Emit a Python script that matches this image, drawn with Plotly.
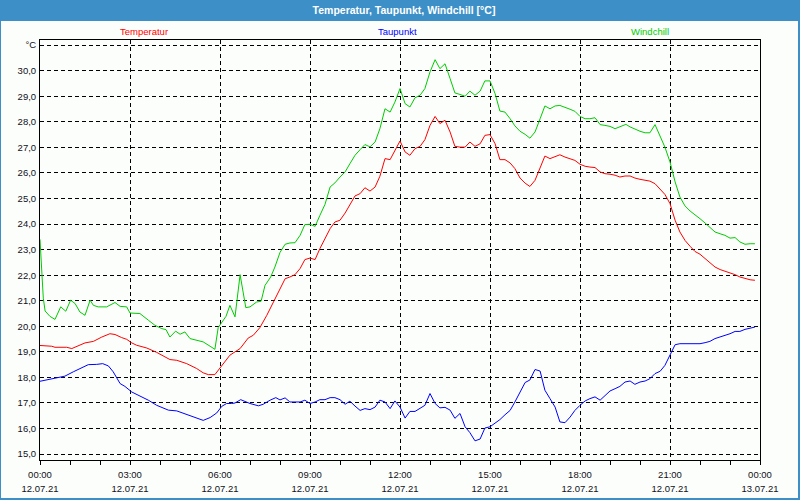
import plotly.graph_objects as go

# ---------------- data (hours since 12.07.21 00:00, °C) ----------------
series_names = ["Temperatur", "Taupunkt", "Windchill"]
series_colors = ["#ff0000", "#0000ff", "#00cc00"]

temp_t = [0, 0.39, 0.5, 0.89, 1.06, 1.28, 1.5, 1.78, 2.06, 2.33, 2.5, 2.72, 2.89, 3.06, 3.22,
          3.56, 3.89, 4.33, 4.56, 4.89, 5.22, 5.44, 5.61, 5.83, 6.06, 6.33, 6.67, 6.94, 7.11,
          7.33, 7.56, 7.78, 8.0, 8.17, 8.33, 8.5, 8.67, 8.83, 9.0, 9.17, 9.33, 9.5, 9.67, 9.83,
          10.0, 10.17, 10.33, 10.5, 10.67, 10.83, 11.0, 11.17, 11.33, 11.5, 11.67, 11.83, 12.0,
          12.17, 12.33, 12.5, 12.67, 12.83, 13.0, 13.17, 13.33, 13.5, 13.67, 13.83, 14.0, 14.17,
          14.33, 14.5, 14.67, 14.83, 15.0, 15.17, 15.33, 15.5, 15.67, 15.83, 16.0, 16.17, 16.33,
          16.5, 16.67, 16.83, 17.0, 17.17, 17.33, 17.5, 17.67, 17.83, 18.0, 18.17, 18.33, 18.5,
          18.67, 18.83, 19.0, 19.17, 19.33, 19.5, 19.67, 19.83, 20.0, 20.17, 20.33, 20.5, 20.67,
          20.83, 21.0, 21.17, 21.33, 21.5, 21.67, 21.83, 22.0, 22.17, 22.33, 22.5, 22.67, 22.83,
          23.0, 23.17, 23.33, 23.5, 23.67, 23.83]
temp_v = [19.25, 19.22, 19.18, 19.18, 19.13, 19.25, 19.35, 19.41, 19.58, 19.71, 19.68, 19.56,
          19.49, 19.35, 19.26, 19.15, 18.98, 18.70, 18.67, 18.54, 18.35, 18.18, 18.11, 18.11,
          18.48, 18.87, 19.13, 19.54, 19.65, 19.95, 20.43, 20.95, 21.44, 21.86, 21.93, 22.02,
          22.26, 22.61, 22.67, 22.61, 23.04, 23.43, 23.82, 24.08, 24.15, 24.43, 24.77, 25.10,
          25.19, 25.42, 25.29, 25.45, 25.87, 26.56, 26.52, 26.88, 27.25, 26.82, 26.69, 26.95,
          27.04, 27.30, 27.86, 28.21, 27.93, 28.06, 27.60, 27.04, 27.01, 27.01, 27.21, 27.04,
          27.14, 27.47, 27.50, 27.14, 26.52, 26.52, 26.39, 26.17, 25.80, 25.60, 25.47, 25.71,
          26.23, 26.66, 26.56, 26.65, 26.71, 26.62, 26.56, 26.49, 26.34, 26.26, 26.23, 26.21,
          26.04, 25.97, 25.95, 25.91, 25.84, 25.88, 25.88, 25.80, 25.75, 25.71, 25.68, 25.58,
          25.38, 25.16, 24.80, 24.15, 23.69, 23.36, 23.13, 22.93, 22.82, 22.65, 22.48, 22.32,
          22.22, 22.16, 22.10, 22.02, 21.93, 21.86, 21.82, 21.80]

dew_t = [0, 0.33, 0.67, 0.83, 1.11, 1.39, 1.61, 1.89, 2.09, 2.28, 2.44, 2.67, 2.83, 3.06, 3.33,
         3.61, 3.89, 4.28, 4.56, 4.89, 5.22, 5.44, 5.67, 5.89, 6.06, 6.22, 6.39, 6.5, 6.69, 7.0,
         7.28, 7.44, 7.67, 7.86, 8.0, 8.17, 8.33, 8.5, 8.67, 8.83, 9.0, 9.17, 9.33, 9.5, 9.67,
         9.83, 10.0, 10.17, 10.33, 10.5, 10.67, 10.83, 11.0, 11.17, 11.33, 11.5, 11.67, 11.83,
         12.0, 12.17, 12.33, 12.5, 12.67, 12.83, 13.0, 13.17, 13.33, 13.5, 13.67, 13.83, 14.0,
         14.17, 14.33, 14.5, 14.67, 14.83, 15.0, 15.17, 15.33, 15.5, 15.67, 15.83, 16.0, 16.17,
         16.33, 16.5, 16.67, 16.83, 17.0, 17.17, 17.33, 17.5, 17.67, 17.83, 18.0, 18.17, 18.33,
         18.5, 18.67, 18.83, 19.0, 19.17, 19.33, 19.5, 19.67, 19.83, 20.0, 20.17, 20.33, 20.5,
         20.67, 20.83, 21.0, 21.17, 21.33, 21.5, 21.67, 21.83, 22.0, 22.17, 22.33, 22.5, 22.67,
         22.83, 23.0, 23.17, 23.33, 23.5, 23.67, 23.83]
dew_v = [17.85, 17.93, 18.02, 18.05, 18.22, 18.38, 18.50, 18.51, 18.54, 18.45, 18.22, 17.76,
         17.65, 17.43, 17.28, 17.11, 16.91, 16.72, 16.69, 16.56, 16.42, 16.32, 16.43, 16.61,
         16.87, 16.98, 16.98, 17.00, 17.13, 16.98, 16.89, 16.95, 17.11, 17.21, 17.12, 17.20,
         17.04, 17.04, 17.04, 17.11, 16.98, 17.04, 17.13, 17.13, 17.21, 17.21, 17.13, 16.95,
         17.07, 16.88, 16.71, 16.78, 16.74, 16.84, 17.11, 17.04, 16.78, 17.08, 16.84, 16.41,
         16.67, 16.67, 16.78, 16.91, 17.37, 16.98, 16.81, 16.83, 16.72, 16.40, 16.59, 16.07,
         15.84, 15.52, 15.59, 16.02, 16.07, 16.20, 16.35, 16.54, 16.71, 17.04, 17.40, 17.80,
         17.90, 18.31, 18.25, 17.50, 17.17, 16.84, 16.26, 16.23, 16.45, 16.71, 16.91, 17.08,
         17.17, 17.24, 17.11, 17.30, 17.47, 17.56, 17.65, 17.82, 17.86, 17.73, 17.82, 17.86,
         17.95, 18.15, 18.24, 18.47, 18.90, 19.28, 19.32, 19.32, 19.32, 19.32, 19.32, 19.36,
         19.41, 19.52, 19.58, 19.65, 19.71, 19.80, 19.80, 19.88, 19.92, 19.97]

chill_t = [0, 0.07, 0.11, 0.17, 0.33, 0.5, 0.69, 0.86, 1.02, 1.17, 1.33, 1.5, 1.67, 1.78, 1.94,
           2.22, 2.5, 2.67, 2.89, 3.0, 3.33, 3.61, 3.83, 4.06, 4.2, 4.33, 4.52, 4.67, 4.83, 5.0,
           5.28, 5.44, 5.67, 5.83, 5.94, 6.06, 6.2, 6.33, 6.5, 6.67, 6.86, 7.0, 7.22, 7.37, 7.5,
           7.69, 7.83, 8.0, 8.17, 8.33, 8.5, 8.67, 8.83, 9.0, 9.17, 9.33, 9.5, 9.67, 9.83, 10.0,
           10.17, 10.33, 10.5, 10.67, 10.83, 11.0, 11.17, 11.33, 11.5, 11.67, 11.83, 12.0, 12.17,
           12.33, 12.5, 12.67, 12.83, 13.0, 13.17, 13.33, 13.5, 13.67, 13.83, 14.0, 14.17, 14.33,
           14.5, 14.67, 14.83, 15.0, 15.17, 15.33, 15.5, 15.67, 15.83, 16.0, 16.17, 16.33, 16.5,
           16.67, 16.83, 17.0, 17.17, 17.33, 17.5, 17.67, 17.83, 18.0, 18.17, 18.33, 18.5, 18.67,
           18.83, 19.0, 19.17, 19.33, 19.53, 19.67, 19.83, 20.0, 20.17, 20.33, 20.5, 20.67,
           20.83, 21.0, 21.17, 21.33, 21.5, 21.67, 21.83, 22.0, 22.17, 22.33, 22.5, 22.67, 22.83,
           23.0, 23.17, 23.33, 23.5, 23.67, 23.83]
chill_v = [23.40, 21.60, 21.10, 20.60, 20.39, 20.27, 20.76, 20.59, 21.02, 20.89, 20.56, 20.43,
           21.02, 20.82, 20.76, 20.76, 20.93, 20.78, 20.76, 20.52, 20.50, 20.24, 20.04, 19.91,
           19.87, 19.58, 19.81, 19.69, 19.78, 19.52, 19.45, 19.39, 19.22, 19.10, 19.95, 20.17,
           20.39, 20.82, 20.37, 22.02, 20.73, 20.76, 20.95, 20.98, 21.60, 21.93, 22.32, 22.89,
           23.21, 23.26, 23.27, 23.56, 23.98, 23.99, 23.91, 24.34, 24.77, 25.45, 25.61, 25.84,
           26.04, 26.36, 26.69, 26.91, 27.11, 27.02, 27.21, 27.73, 28.51, 28.38, 28.77, 29.30,
           28.71, 28.58, 28.94, 29.04, 29.30, 29.95, 30.43, 30.08, 30.27, 29.69, 29.13, 29.07,
           29.00, 29.20, 29.04, 29.20, 29.60, 29.60, 29.10, 28.42, 28.38, 28.12, 27.84, 27.63,
           27.51, 27.36, 27.60, 28.12, 28.62, 28.51, 28.62, 28.64, 28.58, 28.49, 28.41, 28.21,
           28.12, 28.12, 28.16, 27.89, 27.86, 27.82, 27.73, 27.80, 27.90, 27.80, 27.71, 27.63,
           27.57, 27.57, 27.89, 27.47, 27.01, 26.43, 25.65, 25.06, 24.71, 24.51, 24.38, 24.21,
           24.04, 23.86, 23.69, 23.62, 23.56, 23.45, 23.47, 23.30, 23.21, 23.23, 23.23]

x_tick_vals = [0, 3, 6, 9, 12, 15, 18, 21, 24]
x_tick_times = ["00:00", "03:00", "06:00", "09:00", "12:00", "15:00", "18:00", "21:00", "00:00"]
x_tick_dates = ["12.07.21"] * 8 + ["13.07.21"]
y_tick_vals = list(range(15, 32))
y_tick_text = [f"{v},0" for v in range(15, 31)] + ["°C"]
title_text = "Temperatur, Taupunkt, Windchill [°C]"

# ---------------- layout helpers (pixel -> paper) ----------------
W, H = 800, 500
ML, MR, MT, MB = 40, 40, 40, 40
PW, PH = W - ML - MR, H - MT - MB


def px(x):
    return (x - ML) / PW


def py(y):
    return (H - MB - y) / PH


FONT = "Liberation Sans"
TXT = "#101018"
BLUE_FRAME = "#3c8fc7"
BG = "#fcfefc"

fig = go.Figure()
for name, col, t, v in [
    (series_names[0], series_colors[0], temp_t, temp_v),
    (series_names[1], series_colors[1], dew_t, dew_v),
    (series_names[2], series_colors[2], chill_t, chill_v),
]:
    fig.add_trace(go.Scatter(x=t, y=v, mode="lines", name=name,
                             line=dict(color=col, width=1), showlegend=False,
                             hoverinfo="skip"))

# empty helper trace so the secondary (date-label) axis exists
fig.add_trace(go.Scatter(x=[None], y=[None], xaxis="x2", showlegend=False, hoverinfo="skip"))

grid_dash = "4px,3px"
fig.update_layout(
    width=W, height=H,
    margin=dict(l=ML, r=MR, t=MT, b=MB, autoexpand=False),
    paper_bgcolor=BLUE_FRAME,
    plot_bgcolor=BG,
    showlegend=False,
    title=dict(text=title_text, x=0.505, xanchor="center", y=1 - 10.5 / H, yanchor="middle",
               yref="container", automargin=False,
               font=dict(family=FONT, size=10.5, color="white", weight="bold")),
    xaxis=dict(range=[0, 24], tickmode="array", tickvals=x_tick_vals, ticktext=x_tick_times,
               ticks="outside", ticklen=4, tickcolor="black", tickwidth=1,
               minor=dict(tickmode="linear", tick0=0, dtick=1, ticks="outside", ticklen=4,
                          tickcolor="black", showgrid=False),
               showgrid=True, gridcolor="black", gridwidth=1, griddash=grid_dash,
               showline=True, linecolor="black", linewidth=1, mirror=True, zeroline=False,
               automargin=False, ticklabelstandoff=2,
               tickfont=dict(family=FONT, size=9.5, color=TXT), fixedrange=True),
    xaxis2=dict(range=[0, 24], overlaying="x", anchor="y", side="bottom",
                tickmode="array", tickvals=x_tick_vals, ticktext=x_tick_dates,
                ticks="", showgrid=False, showline=False, zeroline=False,
                ticklabelstandoff=21, automargin=False,
                tickfont=dict(family=FONT, size=9.5, color=TXT)),
    yaxis=dict(range=[14.77, 31.2], tickmode="array", tickvals=y_tick_vals, ticktext=y_tick_text,
               ticks="", showgrid=True, gridcolor="black", gridwidth=1, griddash=grid_dash,
               showline=True, linecolor="black", linewidth=1, mirror=True, zeroline=False,
               automargin=False,
               tickfont=dict(family=FONT, size=9.5, color=TXT), ticklabelstandoff=1),
    shapes=[
        dict(type="rect", xref="paper", yref="paper", layer="below",
             x0=px(1), x1=px(798), y0=py(498), y1=py(21),
             fillcolor=BG, line=dict(width=0)),
    ],
)

label_x = [144, 397, 650]
for name, col, lx in zip(series_names, series_colors, label_x):
    fig.add_annotation(text=name, x=px(lx), y=py(31), xref="paper", yref="paper",
                       showarrow=False, xanchor="center", yanchor="middle",
                       font=dict(family=FONT, size=9.5, color=col))

fig.write_html("out.html")
